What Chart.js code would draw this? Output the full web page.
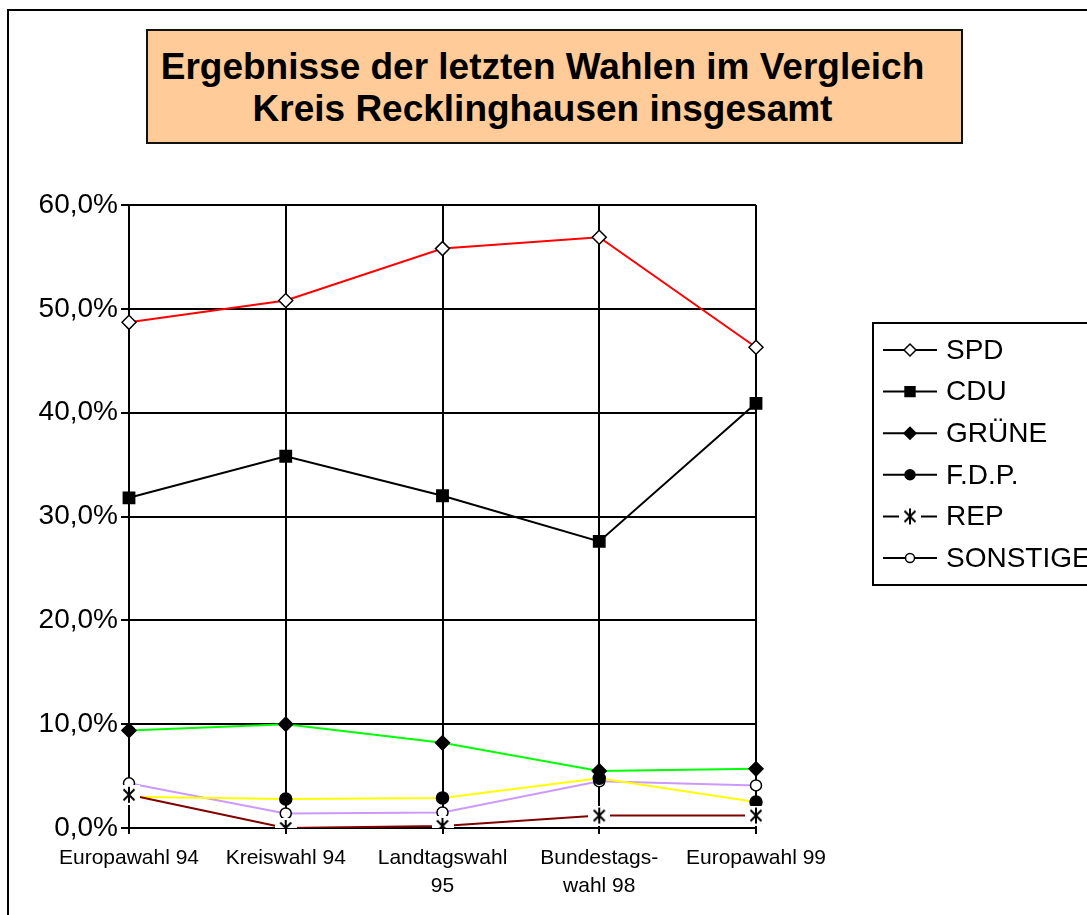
<!DOCTYPE html>
<html>
<head>
<meta charset="utf-8">
<script src="https://cdn.jsdelivr.net/npm/chart.js@4/dist/chart.umd.min.js"></script>
<style>
    body { margin: 0; background: #fff; }
    #wrap { position: relative; width: 1087px; height: 915px; overflow: hidden; }
    #frame { position: absolute; left: 7px; top: 9px; width: 2000px; height: 2000px;
             border-top: 2px solid #000; border-left: 2px solid #000; }
    #title { position: absolute; left: 146px; top: 29px; width: 813px; height: 111px;
             background: #FFCC99; border: 2px solid #111; box-sizing: content-box;
             font-family: Arial, "Liberation Sans", sans-serif; font-weight: bold;
             font-size: 37px; line-height: 42px; text-align: center; }
    #title div { padding-top: 15px; margin-right: 24px; white-space: nowrap; }
    #chart { position: absolute; left: 0; top: 0; }
</style>
</head>
<body>
<div id="wrap">
    <div id="frame"></div>
    <div id="title"><div>Ergebnisse der letzten Wahlen im Vergleich<br>Kreis Recklinghausen insgesamt</div></div>
    <canvas id="chart" width="1087" height="915"></canvas>
</div>
<script>
// ============================
// DATA
// ============================

const elections = ["Europawahl 94", "Kreiswahl 94", ["Landtagswahl", "95"], ["Bundestags-", "wahl 98"], "Europawahl 99"];

const spd = [48.7, 50.8, 55.8, 56.9, 46.3];
const cdu = [31.8, 35.8, 32.0, 27.6, 40.9];
const gruene = [9.4, 10.0, 8.2, 5.5, 5.7];
const fdp = [3.0, 2.8, 2.9, 4.8, 2.5];
const rep = [3.2, 0.0, 0.2, 1.2, 1.2];
const sonstige = [4.3, 1.4, 1.5, 4.5, 4.1];

const yTicks = [0, 10, 20, 30, 40, 50, 60];

const FONT = "Arial, 'Liberation Sans', sans-serif";

// ============================
// REP MARKER (star on white box)
// ============================

function starMarker() {
    const c = document.createElement("canvas");
    c.width = 22;
    c.height = 20;
    const g = c.getContext("2d");
    g.fillStyle = "#fff";
    g.fillRect(0, 0, 22, 20);
    g.strokeStyle = "#000";
    g.lineWidth = 2;
    g.beginPath();
    g.moveTo(5.5, 4.5); g.lineTo(16.5, 15.5);
    g.moveTo(16.5, 4.5); g.lineTo(5.5, 15.5);
    g.moveTo(11, 2); g.lineTo(11, 18);
    g.stroke();
    return c;
}

const repMarker = starMarker();

function series(label, data, color, style, fill, radius, extra) {
    return Object.assign({
        label: label,
        data: data,
        borderColor: color,
        borderWidth: 2,
        pointStyle: style,
        pointRadius: radius,
        pointBorderColor: "#000",
        pointBackgroundColor: fill,
        pointBorderWidth: 1.5,
        tension: 0
    }, extra || {});
}

const datasets = [
    series("SPD", spd, "#FF0000", "rectRot", "#fff", 7),
    series("CDU", cdu, "#000000", "rect", "#000", 8),
    series("GRÜNE", gruene, "#00FF00", "rectRot", "#000", 7),
    series("F.D.P.", fdp, "#FFFF00", "circle", "#000", 6),
    series("REP", rep, "#800000", repMarker, "#fff", 8, { order: -1 }),
    series("SONSTIGE", sonstige, "#CC99FF", "circle", "#fff", 5.5)
];

// ============================
// LEGEND (drawn in box on the right)
// ============================

const boxLegend = {
    id: "boxLegend",
    afterDraw(chart) {
        const ctx = chart.ctx;
        ctx.save();
        ctx.lineWidth = 2;
        ctx.strokeStyle = "#000";
        ctx.strokeRect(873, 323, 400, 262);

        ctx.font = "28px " + FONT;
        ctx.textBaseline = "middle";
        ctx.textAlign = "left";

        chart.data.datasets.forEach((ds, i) => {
            const y = 350 + i * 41.6;
            ctx.strokeStyle = "#000";
            ctx.lineWidth = 2;
            ctx.beginPath();
            ctx.moveTo(883, y);
            ctx.lineTo(937, y);
            ctx.stroke();

            ctx.fillStyle = ds.pointBackgroundColor;
            ctx.strokeStyle = "#000";
            ctx.lineWidth = 1.5;
            Chart.helpers.drawPoint(ctx, {
                pointStyle: ds.pointStyle,
                radius: ds.pointRadius - 1,
                rotation: 0,
                borderWidth: 1.5
            }, 910, y);

            ctx.fillStyle = "#000";
            ctx.fillText(ds.label, 946, y + 1);
        });
        ctx.restore();
    }
};

// ============================
// CHART
// ============================

new Chart(document.getElementById("chart"), {

    type: "line",

    data: {
        labels: elections,
        datasets: datasets
    },

    options: {

        responsive: false,
        animation: false,

        layout: {
            autoPadding: false,
            padding: { top: 205, right: 331, left: 0, bottom: 0 }
        },

        plugins: {
            legend: { display: false },
            tooltip: { enabled: false }
        },

        scales: {

            x: {
                offset: false,
                afterFit: scale => { scale.height = 87; },
                border: { color: "#000", width: 2 },
                grid: {
                    color: "#000",
                    lineWidth: 2,
                    tickLength: 6
                },
                ticks: {
                    color: "#000",
                    padding: 10,
                    maxRotation: 0,
                    autoSkip: false,
                    font: { family: FONT, size: 21, lineHeight: 1.33 }
                }
            },

            y: {
                min: 0,
                max: 60,
                afterFit: scale => { scale.width = 129; },
                afterBuildTicks: scale => {
                    scale.ticks = yTicks.map(v => ({ value: v }));
                },
                border: { color: "#000", width: 2 },
                grid: {
                    color: "#000",
                    lineWidth: 2,
                    tickLength: 8
                },
                ticks: {
                    color: "#000",
                    padding: 3,
                    font: { family: FONT, size: 28 },
                    callback: v => v.toFixed(1).replace(".", ",") + "%"
                }
            }

        }

    },

    plugins: [boxLegend]

});
</script>
</body>
</html>
